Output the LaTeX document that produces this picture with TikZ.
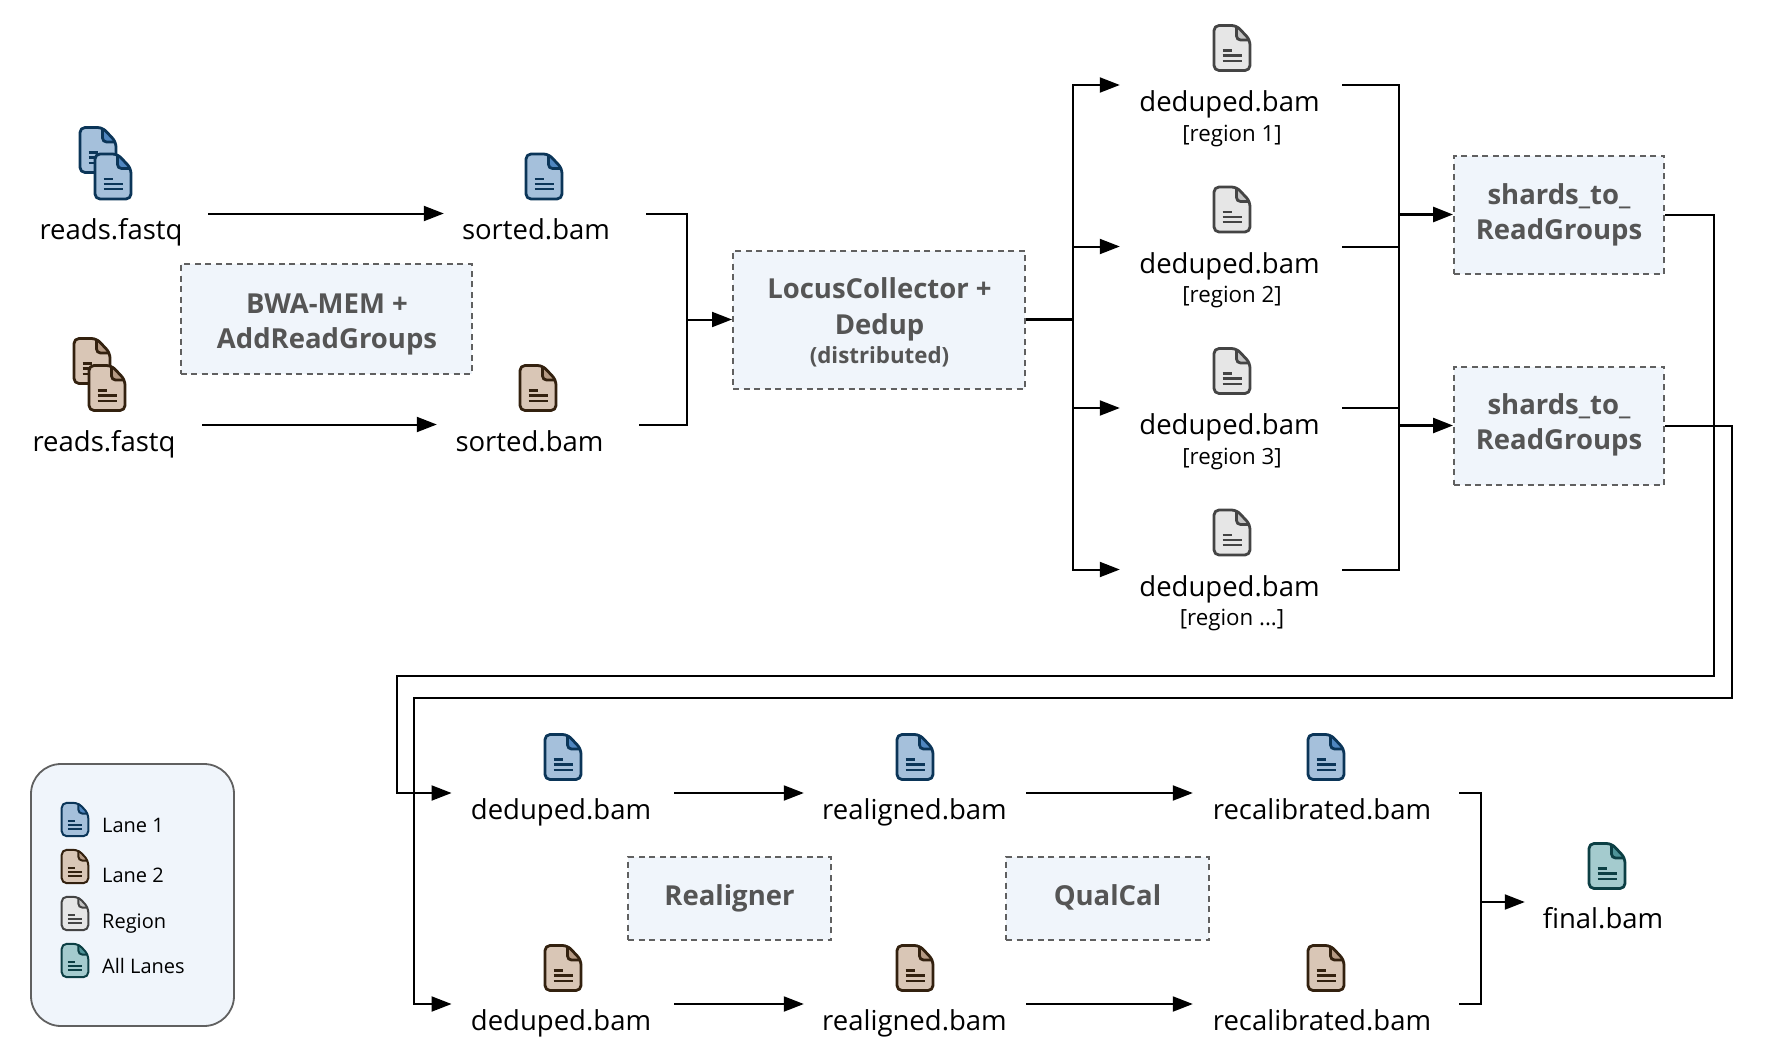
\documentclass[tikz,border=0pt]{standalone}
\usepackage{fontspec}
\setmainfont{Open Sans}
\usetikzlibrary{arrows.meta}
\definecolor{boxfill}{HTML}{F0F5FB}
\definecolor{boxline}{HTML}{606060}
\definecolor{boxtext}{HTML}{555555}
\definecolor{fillA}{HTML}{A5C0DB}
\definecolor{foldA}{HTML}{4F86C0}
\definecolor{lineA}{HTML}{0B3558}
\definecolor{fillB}{HTML}{D9C6B6}
\definecolor{foldB}{HTML}{B59A84}
\definecolor{lineB}{HTML}{33210F}
\definecolor{fillR}{HTML}{E6E6E6}
\definecolor{foldR}{HTML}{C4C4C4}
\definecolor{lineR}{HTML}{444444}
\definecolor{fillT}{HTML}{A4CBCE}
\definecolor{foldT}{HTML}{4E9398}
\definecolor{lineT}{HTML}{0C3F44}
\newcommand{\iconw}{2.8pt}
\tikzset{
  wire/.style={line width=2pt},
  flow/.style={line width=2pt,-{Triangle[length=20pt,width=15pt]}},
  port/.style={inner sep=0pt,minimum height=0pt},
  lbl/.style={anchor=base,inner sep=0pt,yshift=-1.2pt,font=\fontsize{27.5}{32}\selectfont},
  sublbl/.style={anchor=base,inner sep=0pt,yshift=-0.6pt,font=\fontsize{22.3}{26}\selectfont},
  keylbl/.style={anchor=base west,inner sep=0pt,yshift=-0.5pt,font=\fontsize{20}{24}\selectfont},
  stage/.style={draw=boxline,fill=boxfill,line width=2pt,dash pattern=on 6pt off 4.5pt,inner sep=0pt},
  stagetxt/.style={anchor=base,inner sep=0pt,yshift=-1pt,text=boxtext,font=\bfseries\fontsize{27.5}{32}\selectfont},
  pics/fileicon/.style={code={
    \fill[fill#1,rounded corners=5pt] (-18,0) -- (-18,-22.5) -- (4.5,-22.5) -- (18,-8) -- (18,22.5) -- (-18,22.5) -- cycle;
    \fill[fold#1] (4.5,-22.5) -- (18,-8) -- (8,-8) -- (4.5,-12) -- cycle;
    \draw[line#1,line width=\iconw,rounded corners=4pt] (4.5,-22) -- (4.5,-8) -- (17,-8);
    \draw[line#1,line width=\iconw,line join=round,rounded corners=5pt] (-18,0) -- (-18,-22.5) -- (4.5,-22.5) -- (18,-8) -- (18,22.5) -- (-18,22.5) -- cycle;
    \draw[line#1,line width=2.4pt] (-9.5,2.3) -- (0,2.3) (-9.5,7.5) -- (10,7.5) (-9.5,12.7) -- (10,12.7);
  }},
}
\begin{document}
\begin{tikzpicture}[x=1pt,y=-1pt]
\useasboundingbox (0,0) rectangle (1770,1052);

% top left
\pic at (98,150) {fileicon=A};
\pic at (113,176.5) {fileicon=A};
\pic at (92,361) {fileicon=B};
\pic at (107,388) {fileicon=B};
\pic at (544,176.5) {fileicon=A};
\pic at (538,388) {fileicon=B};
\node[lbl] (labelreadsA) at (111,238) {reads.fastq};
\node[lbl] (labelreadsB) at (104,450) {reads.fastq};
\node[lbl] (labelsortedA) at (536,238) {sorted.bam};
\node[lbl] (labelsortedB) at (529.5,450) {sorted.bam};
\node[port,minimum width=4pt] (readsA) at (206,213.5) {};
\node[port,minimum width=4pt] (readsB) at (200,424.5) {};
\node[port,minimum width=202pt] (sortedA) at (545,213.5) {};
\node[port,minimum width=202pt] (sortedB) at (538,424.5) {};

\node[stage,minimum width=291pt,minimum height=110pt] (bwa) at (326,319) {};
\node[stagetxt] (bwaA) at (327,312) {BWA-MEM +};
\node[stagetxt] (bwaB) at (327,347) {AddReadGroups};

\node[stage,minimum width=292pt,minimum height=138pt] (locus) at (879,319.5) {};
\node[stagetxt] (locusA) at (879.5,297) {LocusCollector +};
\node[stagetxt] (locusB) at (879.5,333) {Dedup};
\node[stagetxt,font=\bfseries\fontsize{22.3}{26}\selectfont] (locusC) at (879.5,362) {(distributed)};

\coordinate (busin) at (686.5,319.5);
\draw[wire] (sortedA.east) -| (busin);
\draw[wire] (sortedB.east) -| (busin);
\draw[flow] (busin) -- (locus.west);
\draw[flow] (readsA) -- (sortedA);
\draw[flow] (readsB) -- (sortedB);

% regions
\coordinate (busout) at (1072.5,319.5);
\draw[wire,line width=2.8pt] (locus.east) -- (busout);
\foreach \n/\y/\tag in {1/85/{[region 1]},2/246.5/{[region 2]},3/408/{[region 3]},4/569.5/{[region ...]}} {
  \pic at (1232,\y-37) {fileicon=R};
  \node[lbl] (labelR\n) at (1229.5,\y+25.5) {deduped.bam};
  \node[sublbl] (tagR\n) at (1232,\y+55.5) {\tag};
  \node[port,minimum width=222pt] (dedupR\n) at (1231,\y) {};
  \draw[flow] (busout) |- (dedupR\n.west);
}

% shards
\node[stage,minimum width=210pt,minimum height=118pt] (shardsA) at (1559,214.5) {};
\node[stage,minimum width=210pt,minimum height=118pt] (shardsB) at (1559,425.5) {};
\node[stagetxt] (shardsAa) at (1559,203) {shards\_to\_};
\node[stagetxt] (shardsAb) at (1559,238) {ReadGroups};
\node[stagetxt] (shardsBa) at (1559,413) {shards\_to\_};
\node[stagetxt] (shardsBb) at (1559,448) {ReadGroups};
\coordinate (busA) at (1399,214.5);
\coordinate (busB) at (1399,425.5);
\draw[wire] (dedupR1.east) -| (busA);
\draw[wire] (dedupR2.east) -| (busA);
\draw[wire] (dedupR3.east) -| (busB);
\draw[wire] (dedupR4.east) -| (busB);
\draw[wire] (busA) -- (busB);
\draw[flow,line width=2.8pt] (busA) -- (shardsA.west);
\draw[flow,line width=2.4pt] (busB) -- (shardsB.west);

% bottom rows
\foreach \f/\y/\m in {A/793/757,B/1004/968} {
  \pic at (563,\m) {fileicon=\f};
  \pic at (915,\m) {fileicon=\f};
  \pic at (1326,\m) {fileicon=\f};
  \node[lbl] (labeldedup\f) at (561,\y+25.5) {deduped.bam};
  \node[lbl] (labelrealign\f) at (914.5,\y+25.5) {realigned.bam};
  \node[lbl] (labelrecal\f) at (1322,\y+25.5) {recalibrated.bam};
  \node[port,minimum width=222.5pt] (dedup\f) at (563,\y) {};
  \node[port,minimum width=222pt] (realign\f) at (915,\y) {};
  \node[port,minimum width=266pt] (recal\f) at (1326,\y) {};
  \draw[flow] (dedup\f) -- (realign\f);
  \draw[flow] (realign\f) -- (recal\f);
}
\coordinate (railAup) at (1714,676);
\coordinate (railAlow) at (396.5,676);
\coordinate (railBup) at (1732,698);
\coordinate (railBlow) at (414,698);
\draw[flow] (shardsA.east) -| (railAup) -- (railAlow) |- (dedupA.west);
\draw[flow] (shardsB.east) -| (railBup) -- (railBlow) |- (dedupB.west);

\node[stage,minimum width=203pt,minimum height=83pt] (realigner) at (729.5,898.5) {};
\node[stagetxt] (realignertxt) at (729.5,904.5) {Realigner};
\node[stage,minimum width=203pt,minimum height=83pt] (qualcal) at (1107.5,898.5) {};
\node[stagetxt] (qualcaltxt) at (1107.5,904.5) {QualCal};

\pic at (1607,866) {fileicon=T};
\node[lbl] (labelfinal) at (1603,927) {final.bam};
\node[port,minimum width=156pt] (final) at (1603,902) {};
\coordinate (busfinal) at (1481,902);
\draw[wire] (recalA.east) -| (busfinal);
\draw[wire] (recalB.east) -| (busfinal);
\draw[flow] (busfinal) -- (final.west);

% legend
\node[draw=boxline,fill=boxfill,line width=1.8pt,rounded corners=30pt,minimum width=203pt,minimum height=262pt,inner sep=0pt] (legend) at (132.5,895) {};
\foreach \c/\y/\base/\txt in {A/819.5/832/Lane 1,B/866.5/882/Lane 2,R/913.5/928/Region,T/960.5/973/All Lanes} {
  \renewcommand{\iconw}{2pt}
  \pic[scale=0.74] at (75,\y) {fileicon=\c};
  \node[keylbl] (key\c) at (102,\base) {\txt};
}
\end{tikzpicture}
\end{document}
